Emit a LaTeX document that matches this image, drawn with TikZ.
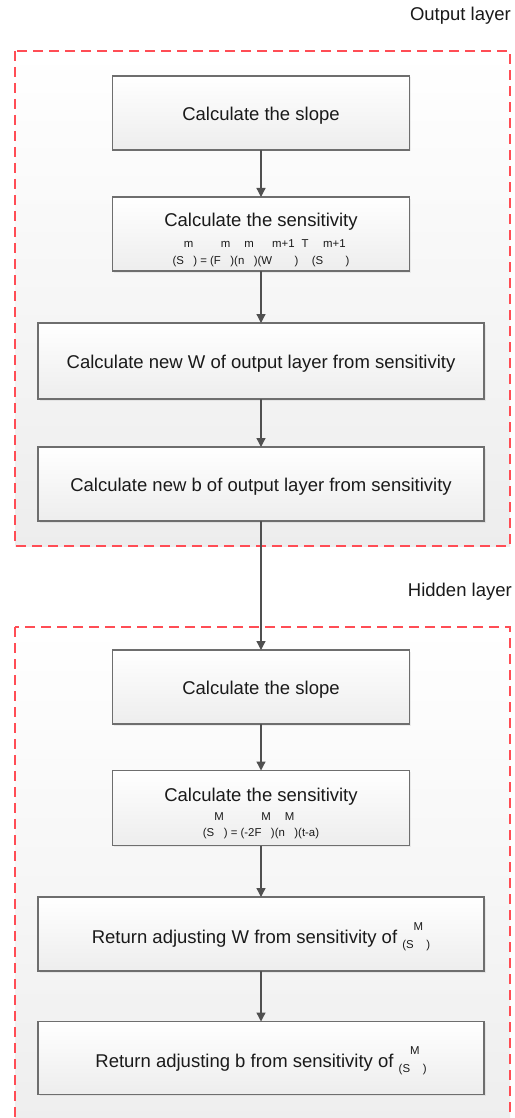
\documentclass[tikz,border=0pt]{standalone}
\usepackage{fontspec}
\setmainfont{Liberation Sans}
\usetikzlibrary{arrows.meta,shadows}
\definecolor{framered}{HTML}{FF4D55}
\definecolor{boxline}{HTML}{6E6E6E}
\definecolor{arrowgray}{HTML}{505050}
\definecolor{txt}{HTML}{1A1A1A}
% raised index placed between a letter and its closing bracket
\newcommand\hsup[2][17pt]{\raisebox{#1}{#2}}
\newcommand\smallf{\fontsize{11.4}{13}\selectfont}
\begin{document}
\begin{tikzpicture}[x=1pt,y=-1pt,
  layer/.style={draw=framered, line width=1.5pt, dash pattern=on 10pt off 6pt,
    top color=white, bottom color=black!7},
  stepbox/.style={draw=boxline, line width=1.4pt, top color=white, bottom color=black!7,
    drop shadow={opacity=0.12, shadow xshift=1.5pt, shadow yshift=-1.5pt},
    inner sep=0pt, outer sep=0pt},
  wide/.style={stepbox, minimum width=446pt},
  narrow/.style={stepbox, minimum width=297pt},
  label/.style={font=\fontsize{18.5}{21}\selectfont, text=txt, anchor=base, inner sep=0pt},
  formula/.style={font=\smallf, text=txt, anchor=base, inner sep=0pt},
  flow/.style={draw=arrowgray, line width=1.3pt, -{Triangle[length=9pt,width=9pt]}}]

\useasboundingbox (0,0) rectangle (514,1118);
\clip (0,0) rectangle (514,1118);
\fill[white] (0,0) rectangle (514,1118);

% layer frames
\draw[layer] (15,51) rectangle (510,546);
\draw[layer] (15,627) rectangle (510,1150);
\node[label, anchor=base east] (outlbl) at (511,21) {Output layer};
\node[label, anchor=base east] (hidlbl) at (512,596) {Hidden layer};

% output layer steps
\node[narrow, minimum height=74pt] (b1) at (261,113) {};
\node[narrow, minimum height=74pt] (b2) at (261,234) {};
\node[wide, minimum height=76pt] (b3) at (261,361) {};
\node[wide, minimum height=74pt] (b4) at (261,484) {};

% hidden layer steps
\node[narrow, minimum height=74pt] (b5) at (261,687) {};
\node[narrow, minimum height=75pt] (b6) at (261,808) {};
\node[wide, minimum height=74pt] (b7) at (261,934) {};
\node[wide, minimum height=73pt] (b8) at (261,1058) {};

% texts
\node[label] (t1) at (261,121) {Calculate the slope};
\node[label] (t2) at (261,226) {Calculate the sensitivity};
\node[formula] (f2) at (261,264)
  {(S\hsup{m}) = (F\hsup{m})(n\hsup{m})(W\hsup{m+1})\hsup{ T} (S\hsup{m+1})};
\node[label] (t3) at (261,368) {Calculate new W of output layer from sensitivity};
\node[label] (t4) at (261,491) {Calculate new b of output layer from sensitivity};

\node[label] (t5) at (261,694) {Calculate the slope};
\node[label] (t6) at (261,801) {Calculate the sensitivity};
\node[formula] (f6) at (261,836)
  {(S\hsup[15.5pt]{M}) = (-2F\hsup[15.5pt]{M})(n\hsup[15.5pt]{M})(t-a)};
\node[label] (t7) at (261,943)
  {Return adjusting W from sensitivity of {\smallf\raisebox{-5pt}{(S\hsup[18pt]{M} )}}};
\node[label] (t8) at (261,1067)
  {Return adjusting b from sensitivity of {\smallf\raisebox{-5pt}{(S\hsup[18pt]{M} )}}};

% connectors
\draw[flow] (b1.south) -- (b2.north);
\draw[flow] (b2.south) -- (b3.north);
\draw[flow] (b3.south) -- (b4.north);
\draw[flow] (b4.south) -- (b5.north);
\draw[flow] (b5.south) -- (b6.north);
\draw[flow] (b6.south) -- (b7.north);
\draw[flow] (b7.south) -- (b8.north);
\end{tikzpicture}
\end{document}
